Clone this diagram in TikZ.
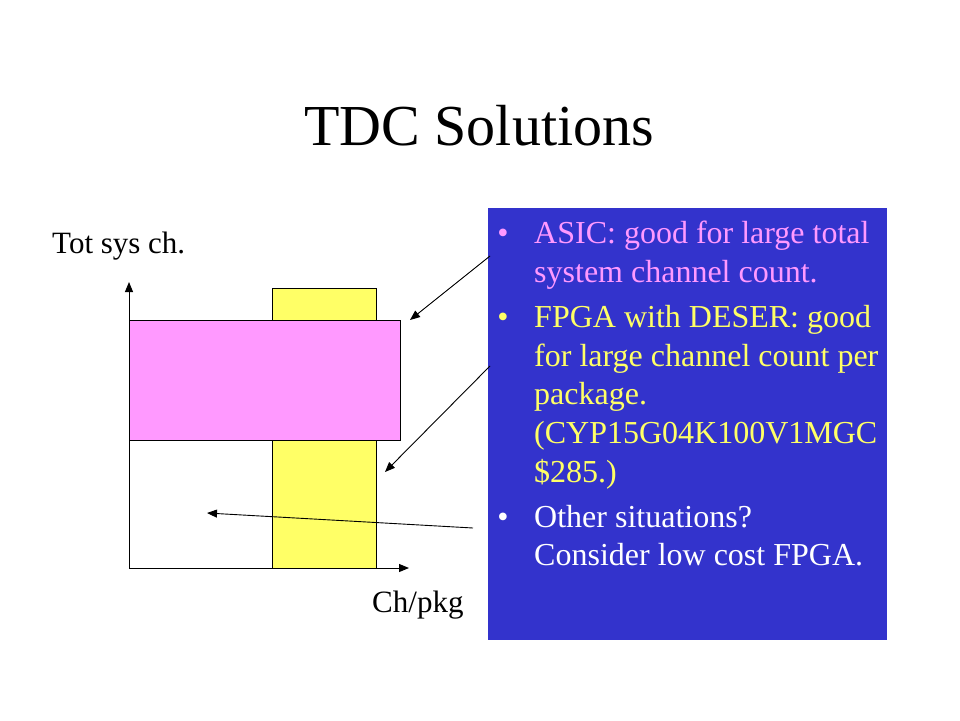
\documentclass[tikz,border=0pt]{standalone}
\usepackage{fontspec}
\setmainfont{Liberation Serif}
\usetikzlibrary{arrows.meta}
\definecolor{panelblue}{HTML}{3333CC}
\definecolor{pinkfill}{HTML}{FF99FF}
\definecolor{yellowfill}{HTML}{FFFF66}
\definecolor{pinktext}{HTML}{FF99FF}
\definecolor{yellowtext}{HTML}{FFFF66}
\tikzset{
  pointer/.style={draw=black, line width=0.9pt, -{Triangle[length=10pt,width=8pt]}},
  axisline/.style={draw=black, line width=1pt, -{Triangle[length=10pt,width=8pt]}},
  bartext/.style={anchor=base west, inner sep=0pt, font=\fontsize{31}{36}\selectfont},
  bulletline/.style={anchor=base west, inner sep=0pt, font=\fontsize{32}{38}\selectfont},
  bulletmark/.style={anchor=base, inner sep=0pt, font=\fontsize{32}{38}\selectfont},
}
\begin{document}
\begin{tikzpicture}[x=1pt,y=-1pt]
\useasboundingbox (0,0) rectangle (960,720);
\fill[white] (0,0) rectangle (960,720);
% title
\node[anchor=base, inner sep=0pt, font=\fontsize{58}{66}\selectfont] (title) at (479,145) {TDC Solutions};
% axis labels
\node[bartext] (ylab) at (52,253) {Tot sys ch.};
\node[bartext] (xlab) at (372,612) {Ch/pkg};
% bars
\coordinate (origin) at (129,568);
\coordinate (ytop) at (129,282);
\coordinate (xend) at (409,568);
\node[draw=black, line width=0.9pt, fill=yellowfill, inner sep=0pt, minimum width=104pt, minimum height=280pt, anchor=north west] (fpga) at (272,288) {};
\node[draw=black, line width=0.9pt, fill=pinkfill, inner sep=0pt, minimum width=271pt, minimum height=120pt, anchor=north west] (asic) at (129,320) {};
\draw[axisline] (origin) -- (ytop);
\draw[axisline] (origin) -- (xend);
% blue panel
\node[fill=panelblue, inner sep=0pt, minimum width=399pt, minimum height=432pt, anchor=north west] (panel) at (488,208) {};
% bullets
\node[bulletmark, text=pinktext] (b1) at (503,243) {•};
\node[bulletline, text=pinktext] (l1a) at (534,243) {ASIC: good for large total};
\node[bulletline, text=pinktext] (l1b) at (534,282) {system channel count.};
\node[bulletmark, text=yellowtext] (b2) at (503,327) {•};
\node[bulletline, text=yellowtext] (l2a) at (534,327) {FPGA with DESER: good};
\node[bulletline, text=yellowtext] (l2b) at (534,366) {for large channel count per};
\node[bulletline, text=yellowtext] (l2c) at (534,404) {package.};
\node[bulletline, text=yellowtext] (l2d) at (534,443) {(CYP15G04K100V1MGC};
\node[bulletline, text=yellowtext] (l2e) at (534,482) {\$285.)};
\node[bulletmark, text=white] (b3) at (503,527) {•};
\node[bulletline, text=white] (l3a) at (534,527) {Other situations?};
\node[bulletline, text=white] (l3b) at (534,565) {Consider low cost FPGA.};
% pointers
\coordinate (s1) at (490,256);
\coordinate (t1) at (410,320);
\coordinate (s2) at (490,366);
\coordinate (t2) at (385,472);
\coordinate (s3) at (473,528);
\coordinate (t3) at (207,513);
\draw[pointer] (s1) -- (t1);
\draw[pointer] (s2) -- (t2);
\draw[pointer] (s3) -- (t3);
\end{tikzpicture}
\end{document}
